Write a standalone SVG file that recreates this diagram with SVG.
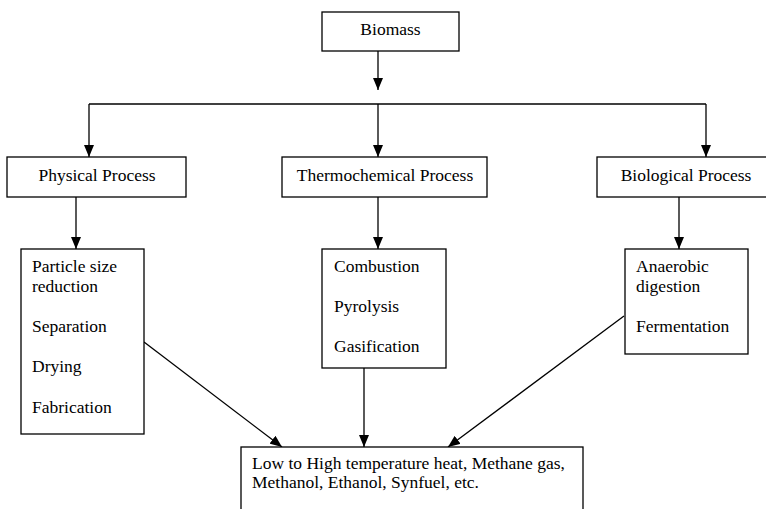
<svg xmlns="http://www.w3.org/2000/svg" width="766" height="509" viewBox="0 0 766 509">
<style>
.box{fill:#fff;stroke:#000;stroke-width:1.3}
.t{font-family:"Liberation Serif","Times New Roman",serif;font-size:17.5px;fill:#000}
.c{text-anchor:middle}
.ln{stroke:#000;stroke-width:1.3;fill:none}
.ar{stroke:#000;stroke-width:1.3;fill:none;marker-end:url(#ah)}
</style>
<defs>
<marker id="ah" markerUnits="userSpaceOnUse" markerWidth="12" markerHeight="10" refX="12" refY="5" orient="auto" viewBox="0 0 12 10">
<path d="M0,0 L12,5 L0,10 z" fill="#000"/>
</marker>
</defs>
<rect width="766" height="509" fill="#fff"/>
<g id="connectors">
<line class="ar" x1="378" y1="51" x2="378" y2="90"/>
<line class="ln" x1="89" y1="104" x2="706" y2="104"/>
<line class="ar" x1="89" y1="104" x2="89" y2="157"/>
<line class="ar" x1="378" y1="104" x2="378" y2="157"/>
<line class="ar" x1="706" y1="104" x2="706" y2="157"/>
<line class="ar" x1="76" y1="197" x2="76" y2="249"/>
<line class="ar" x1="378" y1="197" x2="378" y2="249"/>
<line class="ar" x1="679" y1="197" x2="679" y2="249"/>
<line class="ar" x1="144" y1="342" x2="282" y2="447"/>
<line class="ar" x1="364" y1="368" x2="364" y2="447"/>
<line class="ar" x1="624" y1="316" x2="448" y2="447"/>
</g>
<g id="biomass">
<rect class="box" x="322" y="12" width="137" height="39"/>
<text class="t c" x="390.5" y="35">Biomass</text>
</g>
<g id="physical">
<rect class="box" x="7" y="157" width="179" height="40"/>
<text class="t c" x="97" y="181">Physical Process</text>
</g>
<g id="thermochemical">
<rect class="box" x="282" y="157" width="205" height="40"/>
<text class="t c" x="385" y="181">Thermochemical Process</text>
</g>
<g id="biological">
<rect class="box" x="597" y="157" width="180" height="40"/>
<text class="t c" x="686" y="181">Biological Process</text>
</g>
<g id="physical-steps">
<rect class="box" x="21" y="249" width="123" height="185"/>
<text class="t" x="32" y="272">Particle size</text>
<text class="t" x="32" y="292">reduction</text>
<text class="t" x="32" y="332">Separation</text>
<text class="t" x="32" y="372">Drying</text>
<text class="t" x="32" y="413">Fabrication</text>
</g>
<g id="thermo-steps">
<rect class="box" x="322" y="249" width="124" height="119"/>
<text class="t" x="334" y="272">Combustion</text>
<text class="t" x="334" y="312">Pyrolysis</text>
<text class="t" x="334" y="352">Gasification</text>
</g>
<g id="bio-steps">
<rect class="box" x="625" y="249" width="123" height="105"/>
<text class="t" x="636" y="272">Anaerobic</text>
<text class="t" x="636" y="292">digestion</text>
<text class="t" x="636" y="332">Fermentation</text>
</g>
<g id="products">
<rect class="box" x="241" y="447" width="342" height="70"/>
<text class="t" x="252" y="469">Low to High temperature heat, Methane gas,</text>
<text class="t" x="252" y="488">Methanol, Ethanol, Synfuel, etc.</text>
</g>
</svg>
